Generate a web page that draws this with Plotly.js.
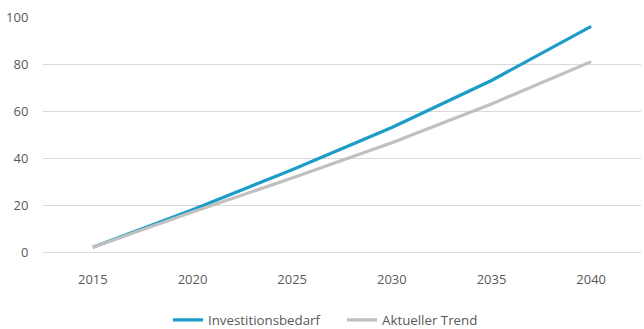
<!DOCTYPE html>
<html>
<head>
<meta charset="utf-8">
<script src="https://cdn.plot.ly/plotly-3.0.1.min.js"></script>
<style>html,body{margin:0;padding:0;background:#fff;}#chart{width:644px;height:329px;}</style>
</head>
<body>
<div id="chart"></div>
<script>
var years = [2015, 2020, 2025, 2030, 2035, 2040];
var investitionsbedarf = [2, 18, 35, 53, 73, 96];
var aktuellerTrend = [2, 17, 31.5, 46.5, 63, 81];
var seriesNames = ["Investitionsbedarf", "Aktueller Trend"];

var traces = [
  {x: years, y: investitionsbedarf, name: seriesNames[0], type: "scatter", mode: "lines",
   line: {color: "#1b9dc8", width: 3.2}, legend: "legend"},
  {x: years, y: aktuellerTrend, name: seriesNames[1], type: "scatter", mode: "lines",
   line: {color: "#c0c0c0", width: 3.2}, legend: "legend2"}
];

var legendFont = {family: "Open Sans, sans-serif", size: 13.3, color: "#595959"};
var layout = {
  width: 644, height: 329,
  margin: {l: 43, r: 3, t: 17, b: 77, autoexpand: false},
  paper_bgcolor: "#fff", plot_bgcolor: "#fff",
  font: {family: "Open Sans, sans-serif", size: 13, color: "#595959"},
  showlegend: true,
  legend: {orientation: "h", x: 0.209, xanchor: "left", y: -0.29, yanchor: "middle",
    font: legendFont, bgcolor: "rgba(0,0,0,0)"},
  legend2: {orientation: "h", x: 0.5, xanchor: "left", y: -0.29, yanchor: "middle",
    font: legendFont, bgcolor: "rgba(0,0,0,0)"},
  xaxis: {type: "linear", range: [2012.5, 2042.5], tickvals: years, ticktext: years.map(String),
    showgrid: false, zeroline: false, showline: false,
    ticks: "outside", ticklen: 15, tickcolor: "rgba(0,0,0,0)", fixedrange: true},
  yaxis: {range: [0, 100], tickvals: [0, 20, 40, 60, 80, 100],
    showgrid: true, gridcolor: "#d9d9d9", gridwidth: 1,
    zeroline: true, zerolinecolor: "#d9d9d9", zerolinewidth: 1, showline: false,
    ticks: "outside", ticklen: 11, tickcolor: "rgba(0,0,0,0)", fixedrange: true}
};

Plotly.newPlot("chart", traces, layout, {displayModeBar: false, staticPlot: true});
</script>
</body>
</html>
